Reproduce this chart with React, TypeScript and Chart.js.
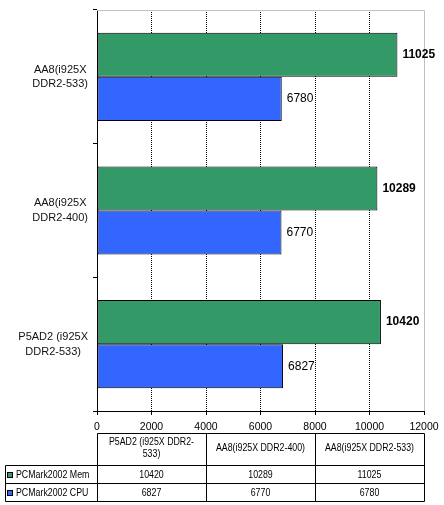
import React, { useEffect, useRef } from "react";
import { Chart, registerables } from "chart.js";

Chart.register(...registerables);

const categories = ["P5AD2 (i925X DDR2-533)", "AA8(i925X DDR2-400)", "AA8(i925X DDR2-533)"];
const seriesNames = ["PCMark2002 Mem", "PCMark2002 CPU"];
const memValues = [10420, 10289, 11025];
const cpuValues = [6827, 6770, 6780];
const xTicks = [0, 2000, 4000, 6000, 8000, 10000, 12000];
const seriesColors = ["#339966", "#3366FF"];

const FONT = '"Liberation Sans", Arial, Helvetica, sans-serif';
const TABLE_SCALE_X = 0.8;

function axisLines(label: string): string[] {
  return label.replace(" DDR2", "\nDDR2").split("\n");
}

function wrapText(ctx: CanvasRenderingContext2D, text: string, maxW: number): string[] {
  const tokens = text.split(/(?<=[ -])/);
  const lines: string[] = [];
  let cur = "";
  for (const t of tokens) {
    const trial = cur + t;
    if (cur && ctx.measureText(trial.trimEnd()).width * TABLE_SCALE_X > maxW) {
      lines.push(cur.trimEnd());
      cur = t;
    } else {
      cur = trial;
    }
  }
  if (cur) lines.push(cur.trimEnd());
  return lines;
}

function condensedText(ctx: CanvasRenderingContext2D, text: string, x: number, y: number) {
  ctx.save();
  ctx.translate(x, y);
  ctx.scale(TABLE_SCALE_X, 1);
  ctx.fillText(text, 0, 0);
  ctx.restore();
}

const decorPlugin = {
  id: "decor",
  beforeDatasetsDraw(chart: any) {
    const { ctx, chartArea } = chart;
    ctx.save();
    ctx.strokeStyle = "#c0c0c0";
    ctx.lineWidth = 1;
    ctx.beginPath();
    ctx.moveTo(chartArea.left, chartArea.top + 0.5);
    ctx.lineTo(chartArea.right + 0.5, chartArea.top + 0.5);
    ctx.lineTo(chartArea.right + 0.5, chartArea.bottom);
    ctx.stroke();
    ctx.restore();
  },
  afterDatasetsDraw(chart: any) {
    const { ctx } = chart;
    ctx.save();
    ctx.fillStyle = "#000";
    ctx.textBaseline = "middle";
    ctx.textAlign = "left";
    chart.data.datasets.forEach((ds: any, di: number) => {
      const meta = chart.getDatasetMeta(di);
      ctx.font = (di === 0 ? "bold " : "") + "12px " + FONT;
      meta.data.forEach((bar: any, i: number) => {
        ctx.fillText(String(ds.data[i]), bar.x + 5, bar.y);
      });
    });
    // category labels (block right-aligned, lines centred)
    const yScale = chart.scales.y;
    ctx.font = "11px " + FONT;
    ctx.fillStyle = "#111";
    ctx.textAlign = "center";
    categories.forEach((c, i) => {
      const lines = axisLines(c);
      const yc = yScale.getPixelForValue(i);
      const widths = lines.map((l) => ctx.measureText(l).width);
      const bw = Math.max(...widths);
      const right = chart.chartArea.left - 9;
      const lh = 14.7;
      lines.forEach((l, k) => {
        const y = yc + (k - (lines.length - 1) / 2) * lh;
        ctx.fillText(l, right - bw / 2, y);
      });
    });
    // x tick labels
    const xScale = chart.scales.x;
    ctx.font = "10.5px " + FONT;
    ctx.fillStyle = "#000";
    ctx.textAlign = "center";
    ctx.textBaseline = "alphabetic";
    xScale.ticks.forEach((t: any) => {
      ctx.fillText(String(t.value), xScale.getPixelForValue(t.value), chart.chartArea.bottom + 19);
    });
    ctx.restore();
  },
  afterDraw(chart: any) {
    const { ctx, chartArea } = chart;
    const left = chartArea.left;
    const right = chartArea.right;
    const n = categories.length;
    const colW = (right - left) / n;
    const top = chartArea.bottom + 22;
    const headerH = 32;
    const rowH = 18;
    const legendLeft = 5;
    const rows = [memValues, cpuValues];
    const bottom = top + headerH + rowH * rows.length;
    const px = (v: number) => Math.round(v) + 0.5;
    ctx.save();
    ctx.strokeStyle = "#000";
    ctx.lineWidth = 1;
    ctx.beginPath();
    ctx.moveTo(px(left), px(top));
    ctx.lineTo(px(right), px(top));
    for (let r = 0; r <= rows.length; r++) {
      const y = px(top + headerH + r * rowH);
      ctx.moveTo(px(legendLeft), y);
      ctx.lineTo(px(right), y);
    }
    ctx.moveTo(px(legendLeft), px(top + headerH));
    ctx.lineTo(px(legendLeft), px(bottom));
    for (let c = 0; c <= n; c++) {
      const x = px(left + c * colW);
      ctx.moveTo(x, px(top));
      ctx.lineTo(x, px(bottom));
    }
    ctx.stroke();

    ctx.fillStyle = "#000";
    ctx.font = "11px " + FONT;
    ctx.textAlign = "center";
    ctx.textBaseline = "middle";
    categories.forEach((c, i) => {
      const lines = wrapText(ctx, c, colW - 8);
      const cx = left + (i + 0.5) * colW;
      const cy = top + headerH / 2 - 1;
      const lh = 12.5;
      lines.forEach((l, k) => {
        condensedText(ctx, l, cx, cy + (k - (lines.length - 1) / 2) * lh);
      });
    });
    rows.forEach((vals, r) => {
      const cy = top + headerH + r * rowH + rowH / 2 + 0.5;
      vals.forEach((v, i) => {
        condensedText(ctx, String(v), left + (i + 0.5) * colW, cy);
      });
      ctx.fillStyle = seriesColors[r];
      ctx.fillRect(8, Math.round(cy) - 2, 5, 5);
      ctx.strokeStyle = "#000";
      ctx.strokeRect(7.5, Math.round(cy) - 2.5, 5, 5);
      ctx.fillStyle = "#000";
      ctx.textAlign = "left";
      condensedText(ctx, seriesNames[r], 16, cy);
      ctx.textAlign = "center";
    });
    ctx.restore();
  },
};

export default function App() {
  const ref = useRef<HTMLCanvasElement | null>(null);

  useEffect(() => {
    if (!ref.current) return;
    const chart = new Chart(ref.current, {
      type: "bar",
      data: {
        labels: categories,
        datasets: [
          {
            label: seriesNames[0],
            data: memValues,
            backgroundColor: seriesColors[0],
            borderColor: "#000",
            borderWidth: 1,
            borderSkipped: false,
            categoryPercentage: 0.66,
            barPercentage: 1,
          },
          {
            label: seriesNames[1],
            data: cpuValues,
            backgroundColor: seriesColors[1],
            borderColor: "#000",
            borderWidth: 1,
            borderSkipped: false,
            categoryPercentage: 0.66,
            barPercentage: 1,
          },
        ],
      },
      options: {
        indexAxis: "y",
        responsive: false,
        animation: false,
        devicePixelRatio: 1,
        layout: { padding: { top: 10, right: 20, bottom: 72, left: 0 } },
        plugins: {
          legend: { display: false },
          tooltip: { enabled: false },
          title: { display: false },
        },
        scales: {
          x: {
            type: "linear",
            min: xTicks[0],
            max: xTicks[xTicks.length - 1],
            ticks: {
              stepSize: xTicks[1] - xTicks[0],
              display: false,
              autoSkip: false,
            },
            grid: {
              color: (c: any) =>
                c.index === 0 || c.index === xTicks.length - 1 ? "rgba(0,0,0,0)" : "#000",
              tickColor: "#000",
              tickLength: 4,
              lineWidth: 1,
            },
            border: { display: true, color: "#000", width: 1, dash: [1, 1] },
            afterFit: (s: any) => {
              s.height = 22;
              s.paddingLeft = 0;
              s.paddingRight = 0;
            },
          },
          y: {
            type: "category",
            reverse: true,
            offset: true,
            ticks: { display: false },
            grid: {
              offset: true,
              drawOnChartArea: false,
              drawTicks: true,
              tickLength: 4,
              color: "#000",
              tickColor: "#000",
            },
            border: { display: true, color: "#000", width: 1 },
            afterFit: (s: any) => {
              s.width = 97;
              s.paddingTop = 0;
              s.paddingBottom = 0;
            },
          },
        },
      },
      plugins: [decorPlugin],
    } as any);
    return () => chart.destroy();
  }, []);

  return (
    <div
      style={{
        position: "absolute",
        left: 0,
        top: 0,
        width: 444,
        height: 505,
        background: "#fff",
      }}
    >
      <canvas ref={ref} width={444} height={505} style={{ display: "block" }} />
    </div>
  );
}
